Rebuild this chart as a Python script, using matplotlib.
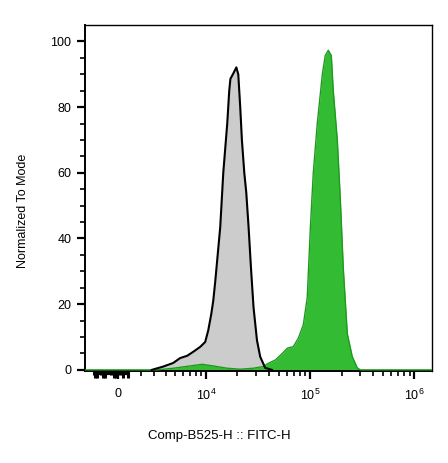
import numpy as np
import matplotlib
matplotlib.use("Agg")
import matplotlib.pyplot as plt

plt.rcParams["font.family"] = ["Liberation Sans", "DejaVu Sans"]
plt.rcParams["mathtext.fontset"] = "custom"
plt.rcParams["mathtext.rm"] = "Liberation Sans"
plt.rcParams["mathtext.it"] = "Liberation Sans:italic"
plt.rcParams["mathtext.bf"] = "Liberation Sans:bold"

# unstained / control histogram (grey)
grey_x = [2800, 3760, 4760, 5590, 6550, 7490, 8750, 9780, 10460, 11190,
          11690, 12230, 13650, 14600, 15940, 16660, 17100, 18200, 19500,
          20350, 21250, 22050, 23250, 24290, 25560, 26960, 28530, 30780,
          33060, 36930, 42900]
grey_y = [0, 1.0, 2.1, 3.6, 4.3, 5.5, 7.0, 8.5, 12, 17,
          21, 27, 43.5, 60, 75, 85, 88.6, 90.2, 92.1,
          90, 80, 70, 60, 54, 43.5, 31, 19, 9,
          4, 0.6, 0]

# stained sample histogram (green)
green_x = [-9000, 3235, 4760, 7000, 9150, 11690, 15940, 21250, 28340, 35350,
           39480, 46180, 53880, 60180, 68780, 76770, 85760, 93610, 100200,
           107000, 116900, 130700, 139400, 149100, 159400, 166500, 182100,
           194800, 207800, 227200, 253700, 283400, 303000, 1490000]
green_y = [0, 0, 0.5, 1.2, 1.7, 1.2, 0.5, 0.2, 0.5, 1.0,
           2.0, 3.0, 5.0, 6.6, 7.1, 9.6, 13.7, 22, 43,
           60, 75, 90, 95.7, 97.3, 95.7, 85, 70,
           51.7, 31, 11, 4, 0.6, 0, 0]

major_ticks = [0, 1e4, 1e5, 1e6]
major_labels = ["0", r"$\mathregular{10^4}$", r"$\mathregular{10^5}$",
                r"$\mathregular{10^6}$"]
cluster_ticks = [-5000, -4500, -4000, -3000, -2500, -2000, -1000, -500,
                 -250, 250, 500, 1000]
minor_ticks = [m * 10 ** e for e in (3, 4, 5) for m in range(2, 10)]

# biexponential display (FlowJo-like)
A, K = 1427.0, 2.62
_u = np.linspace(-1.5, 4.0, 20001)
_x = A * (10 ** _u - 10 ** (-K * _u))


def biex_forward(x):
    return np.interp(x, _x, _u)


def biex_inverse(u):
    return A * (10 ** u - 10 ** (-K * u))


fig = plt.figure(figsize=(4.48, 4.63), dpi=100)
ax = fig.add_axes([0.19, 0.199, 0.775, 0.747])
ax.set_xscale("function", functions=(biex_forward, biex_inverse))

ax.fill_between(grey_x, grey_y, color="#cccccc", lw=0, zorder=1)
ax.fill_between(green_x, green_y, color="#33bb33", lw=0, zorder=2)
ax.plot(green_x, green_y, color="#1f9a1f", lw=1.0, zorder=3)
ax.plot(grey_x, grey_y, color="black", lw=1.5, zorder=4)

ax.set_xlim(-9000, 1.49e6)
ax.set_ylim(-0.3, 105)

ax.set_xticks(major_ticks)
ax.set_xticklabels(major_labels)
ax.set_xticks(minor_ticks, minor=True)
ax.set_yticks([0, 20, 40, 60, 80, 100])
ax.set_yticks(np.arange(5, 100, 5), minor=True)

ax.tick_params(axis="both", which="major", length=6, width=1.6,
               labelsize=9, direction="out", color="black")
ax.tick_params(axis="both", which="minor", length=3.5, width=1.2,
               direction="out", color="black")
ax.tick_params(axis="x", which="major", pad=6)
ax.tick_params(axis="y", which="major", pad=4)

# dense tick cluster of the linear region around zero
xt = ax.get_xaxis_transform()
for i, v in enumerate(cluster_ticks):
    h = 0.02 if i % 3 else 0.013
    ax.plot([v, v], [0, -h], color="black", lw=2.2, transform=xt,
            clip_on=False, solid_capstyle="butt")
ax.plot([-5000, 1000], [-0.006, -0.006], color="black", lw=3,
        transform=xt, clip_on=False, solid_capstyle="butt")

for side in ["left", "bottom"]:
    ax.spines[side].set_linewidth(1.4)
for side in ["top", "right"]:
    ax.spines[side].set_linewidth(1.0)

fig.text(0.051, 0.545, "Normalized To Mode", rotation=90,
         ha="center", va="center", fontsize=9)
fig.text(0.489, 0.058, "Comp-B525-H :: FITC-H",
         ha="center", va="center", fontsize=9.5)

fig.savefig("out.png", dpi=100)
